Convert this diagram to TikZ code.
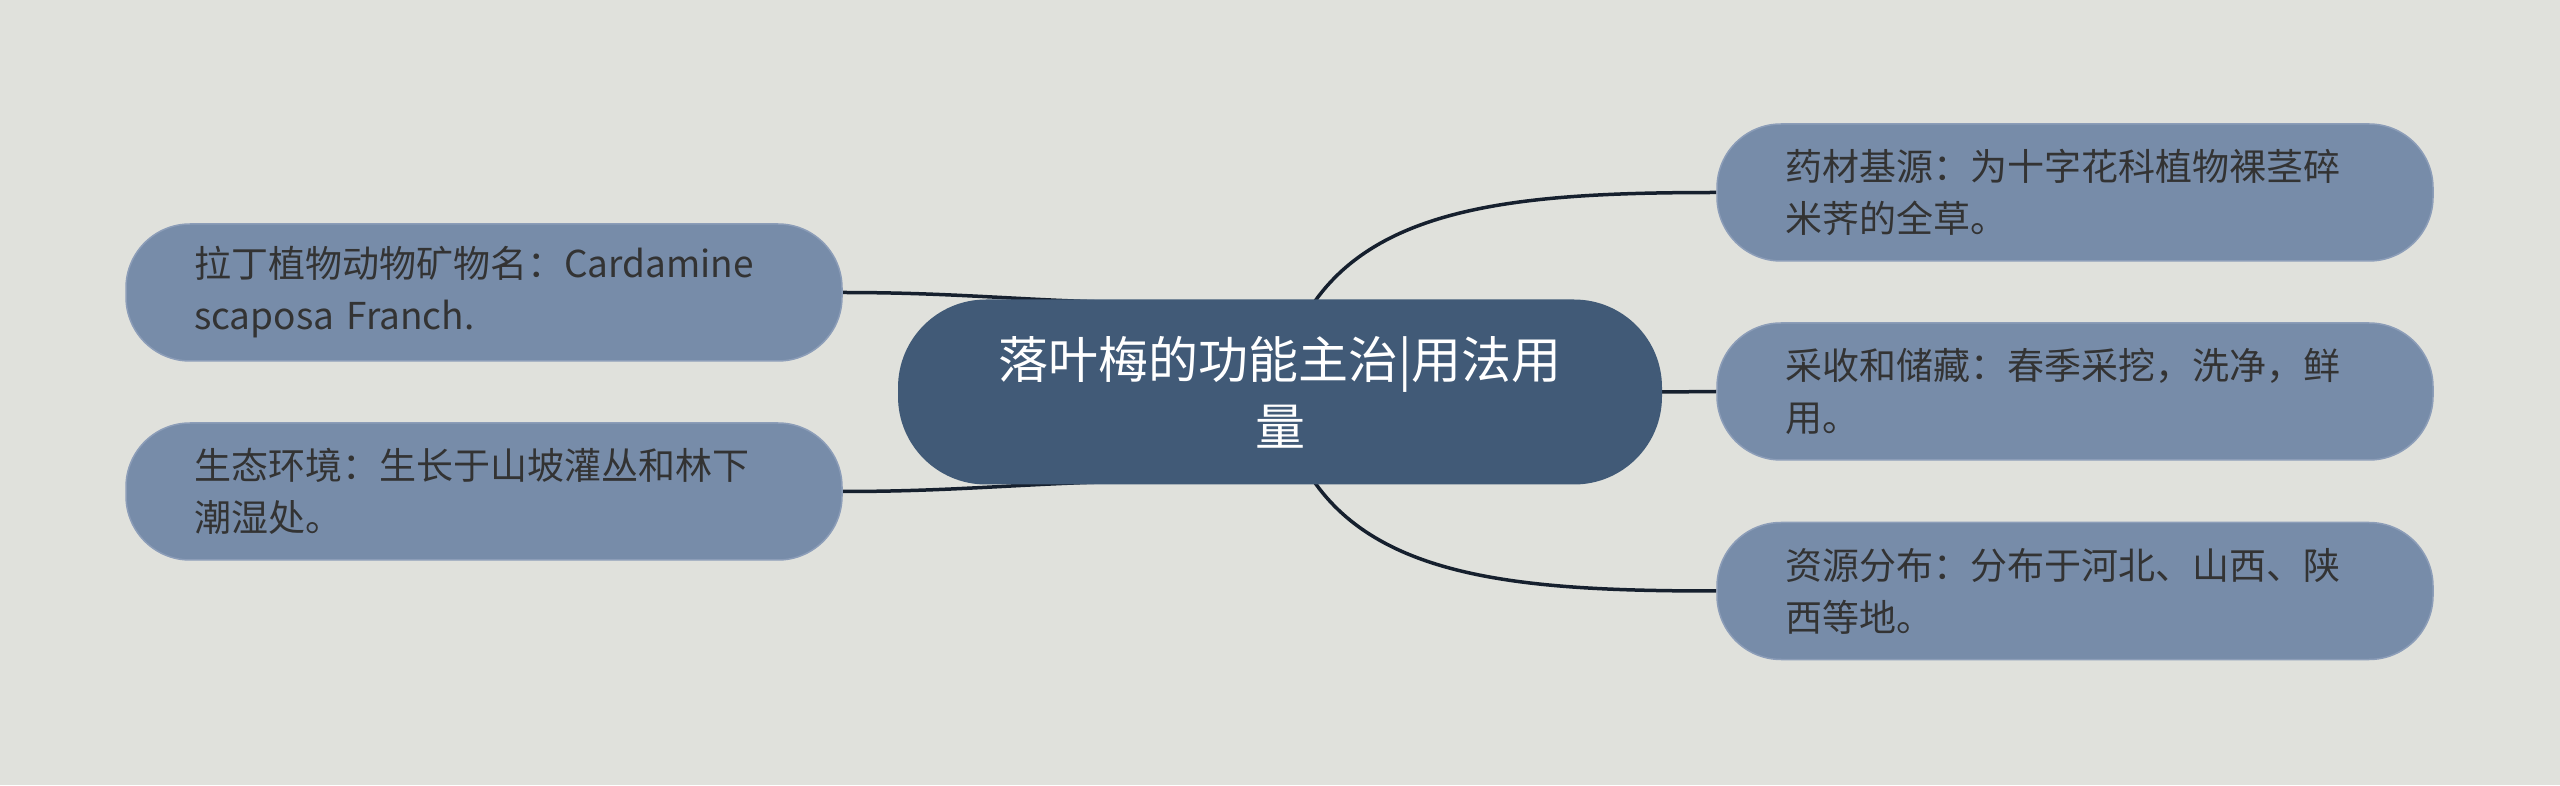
\documentclass[tikz,border=0pt]{standalone}
\usepackage{fontspec}
\setmainfont{Noto Sans CJK SC}
\usetikzlibrary{backgrounds}
\definecolor{paper}{HTML}{E0E1DC}
\definecolor{rootfill}{HTML}{415A77}
\definecolor{leaffill}{HTML}{778CA9}
\definecolor{leafline}{HTML}{8C9DB8}
\definecolor{wire}{HTML}{16202E}
\definecolor{ink}{HTML}{333333}
\tikzset{
  rootbox/.style={rounded corners=88pt,fill=rootfill,text=white,minimum width=764pt,
    minimum height=185pt,text width=620pt,align=center,font=\fontsize{50}{67}\selectfont},
  leafbox/.style={rounded corners=64pt,fill=leaffill,draw=leafline,line width=1.5pt,text=ink,
    minimum width=716pt,minimum height=137pt,text width=580pt,inner xsep=68pt,align=left,
    font=\fontsize{37}{52}\selectfont},
  wireline/.style={draw=wire,line width=3.5pt}
}

\begin{document}
\begin{tikzpicture}[x=1pt,y=1pt]
\useasboundingbox (0,0) rectangle (2560,785);
\node[rootbox](root) at (1280,393) {落叶梅的功能主治|用法用\\量};
\node[leafbox](latin) at (484,492.5) {拉丁植物动物矿物名：Cardamine\\scaposa Franch.};
\node[leafbox](habitat) at (484,293.5) {生态环境：生长于山坡灌丛和林下\\潮湿处。};
\node[leafbox](origin) at (2075,592.5) {药材基源：为十字花科植物裸茎碎\\米荠的全草。};
\node[leafbox](harvest) at (2075,393.5) {采收和储藏：春季采挖，洗净，鲜\\用。};
\node[leafbox](spread) at (2075,194) {资源分布：分布于河北、山西、陕\\西等地。};
\coordinate (hubL1) at (1170,482);
\coordinate (hubL2) at (1170,304);
\coordinate (hubR1) at (1306,470);
\coordinate (hubR3) at (1306,316);
\begin{scope}[on background layer]
\fill[paper] (0,0) rectangle (2560,785);
% links to the left
\draw[wireline] (latin.east) to[out=0,in=180] (hubL1);
\draw[wireline] (habitat.east) to[out=0,in=180] (hubL2);
% links to the right
\draw[wireline] (hubR1) .. controls +(65,110) and +(-196,0) .. (origin.west);
\draw[wireline] (root.east) -- (harvest.west);
\draw[wireline] (hubR3) .. controls +(65,-110) and +(-196,0) .. (spread.west);
\end{scope}
\end{tikzpicture}
\end{document}
